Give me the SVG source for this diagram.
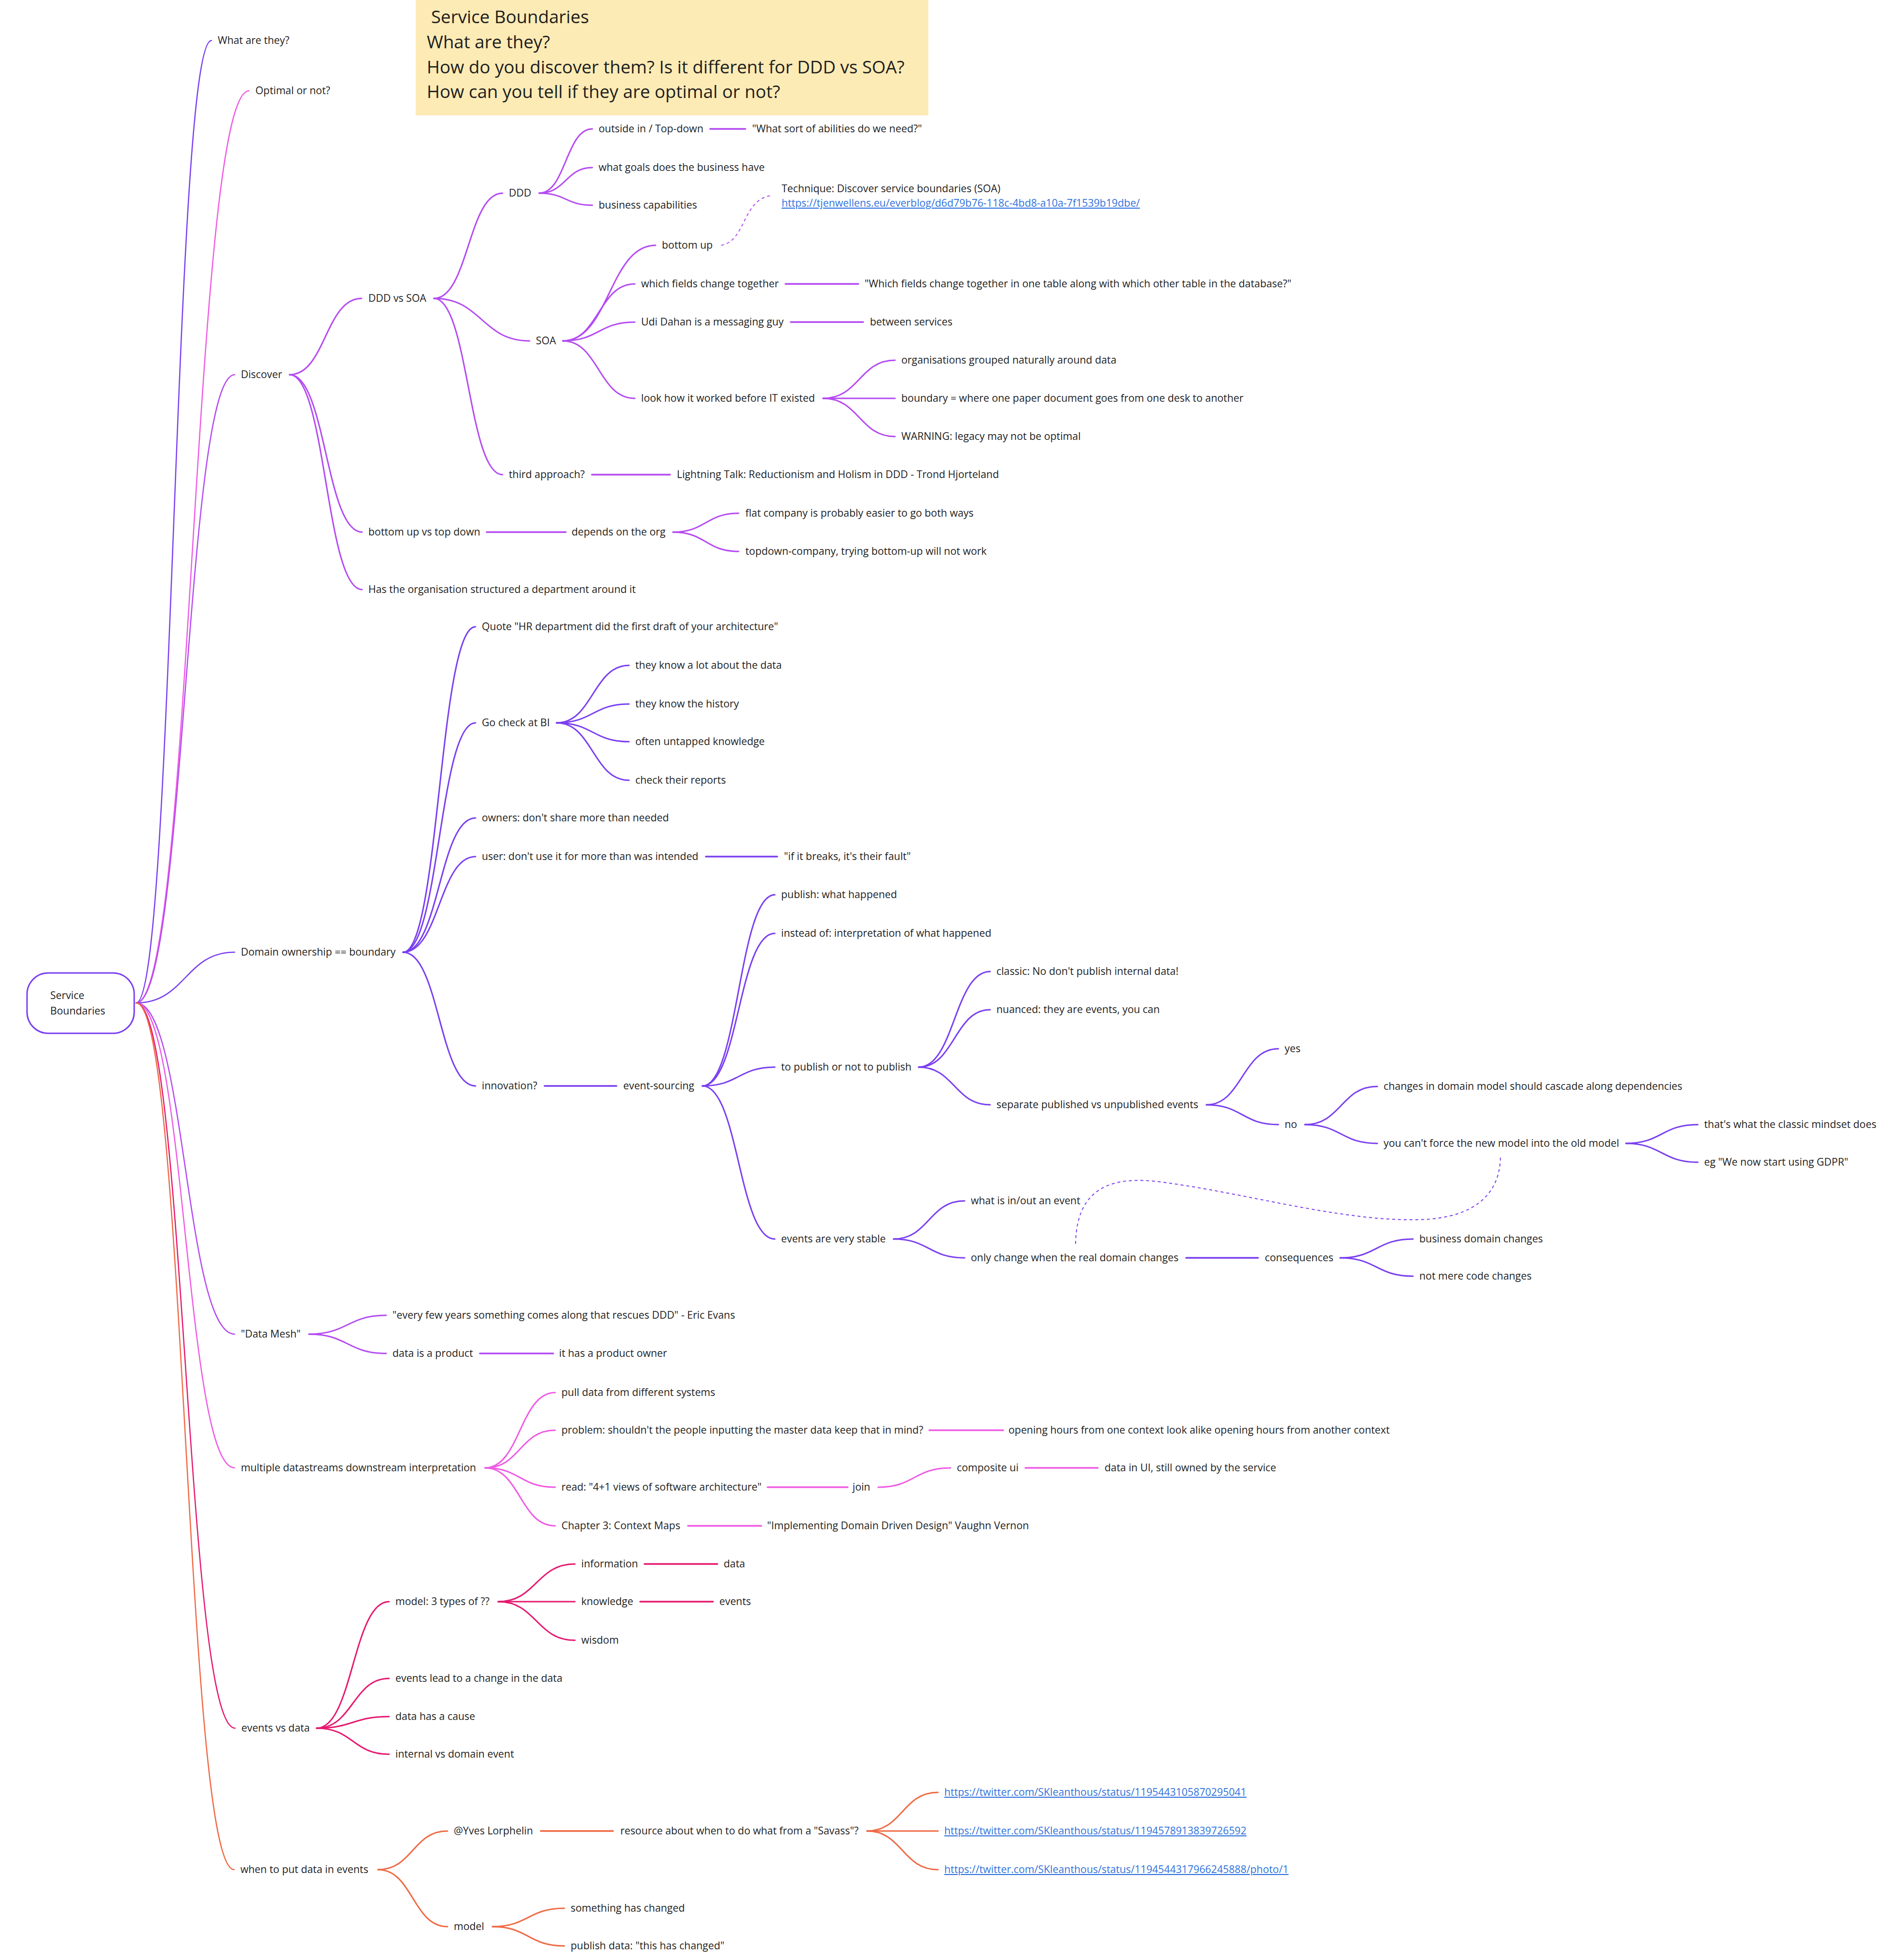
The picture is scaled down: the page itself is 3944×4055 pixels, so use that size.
<svg xmlns="http://www.w3.org/2000/svg" width="3944" height="4055" viewBox="0 0 3944 4055">
<style>
.t{font-family:"Open Sans","Noto Sans","Liberation Sans",sans-serif;font-size:21.33px;fill:#1e1e1e}
.tt{font-family:"Open Sans","Noto Sans","Liberation Sans",sans-serif;font-size:36.7px;fill:#1e1e1e}
.lk{fill:#2f72dc;text-decoration:underline}
.e{fill:none;stroke-linecap:round;stroke-width:3}
.e1{stroke-width:2.5}
.s{stroke-width:3.5}
.d{fill:none;stroke-width:2;stroke-dasharray:6 6}
.v{stroke:#7a3ff0}
.pu{stroke:#b44af2}
.pk{stroke:#ef5be4}
.rd{stroke:#e5196f}
.or{stroke:#ef6a45}
</style>
<rect width="3944" height="4055" fill="#ffffff"/>
<g id="title">
<rect x="861" y="0" width="1062" height="239" fill="#fdebb5"/>
<text class="tt" x="893" y="48">Service Boundaries</text>
<text class="tt" x="884" y="100">What are they?</text>
<text class="tt" x="884" y="152">How do you discover them? Is it different for DDD vs SOA?</text>
<text class="tt" x="884" y="203">How can you tell if they are optimal or not?</text>
</g>
<g id="connectors">
<path class="e e1 v" d="M282 2077 C360 2077 360 84 438 84"/>
<path class="e e1 pk" d="M282 2077 C399 2077 399 188 516 188"/>
<path class="e e1 pu" d="M282 2077 C384 2077 384 776 486 776"/>
<path class="e e1 v" d="M282 2077 C384 2077 384 1972 486 1972"/>
<path class="e e1 pu" d="M282 2077 C384 2077 384 2763 486 2763"/>
<path class="e e1 pk" d="M282 2077 C384 2077 384 3040 486 3040"/>
<path class="e e1 rd" d="M282 2077 C384 2077 384 3579 487 3579"/>
<path class="e e1 or" d="M282 2077 C384 2077 384 3872 485 3872"/>
<path class="e pu" d="M600 776 C674 776 674 618 749 618"/>
<path class="e pu" d="M600 776 C675 776 675 1102 750 1102"/>
<path class="e pu" d="M600 776 C675 776 675 1221 750 1221"/>
<path class="e pu" d="M899 618 C970 618 970 400 1041 400"/>
<path class="e pu" d="M899 618 C998 618 998 706 1097 706"/>
<path class="e pu" d="M899 618 C970 618 970 983 1041 983"/>
<path class="e pu" d="M1117 400 C1172 400 1172 267 1227 267"/>
<path class="e pu" d="M1117 400 C1172 400 1172 347 1227 347"/>
<path class="e pu" d="M1117 400 C1172 400 1172 425 1227 425"/>
<path class="e s pu" d="M1471 267 L1544 267"/>
<path class="e pu" d="M1166 706 C1262 706 1262 508 1358 508"/>
<path class="e pu" d="M1166 706 C1240 706 1240 588 1315 588"/>
<path class="e pu" d="M1166 706 C1240 706 1240 667 1315 667"/>
<path class="e pu" d="M1166 706 C1240 706 1240 825 1315 825"/>
<path class="d pu" d="M1494 508 C1545 500 1538 412 1598 405"/>
<path class="e s pu" d="M1627 588 L1778 588"/>
<path class="e s pu" d="M1638 667 L1788 667"/>
<path class="e pu" d="M1705 825 C1780 825 1780 746 1854 746"/>
<path class="e pu" d="M1705 825 L1854 825"/>
<path class="e pu" d="M1705 825 C1780 825 1780 904 1854 904"/>
<path class="e s pu" d="M1226 983 L1388 983"/>
<path class="e s pu" d="M1008 1102 L1172 1102"/>
<path class="e pu" d="M1394 1102 C1462 1102 1462 1063 1530 1063"/>
<path class="e pu" d="M1394 1102 C1462 1102 1462 1142 1530 1142"/>
<path class="e v" d="M835 1972 C910 1972 910 1298 985 1298"/>
<path class="e v" d="M835 1972 C910 1972 910 1497 985 1497"/>
<path class="e v" d="M835 1972 C910 1972 910 1694 985 1694"/>
<path class="e v" d="M835 1972 C910 1972 910 1774 985 1774"/>
<path class="e v" d="M835 1972 C910 1972 910 2249 985 2249"/>
<path class="e v" d="M1153 1497 C1228 1497 1228 1378 1303 1378"/>
<path class="e v" d="M1153 1497 C1228 1497 1228 1458 1303 1458"/>
<path class="e v" d="M1153 1497 C1228 1497 1228 1536 1303 1536"/>
<path class="e v" d="M1153 1497 C1228 1497 1228 1616 1303 1616"/>
<path class="e s v" d="M1462 1774 L1610 1774"/>
<path class="e s v" d="M1128 2249 L1277 2249"/>
<path class="e v" d="M1455 2249 C1530 2249 1530 1853 1605 1853"/>
<path class="e v" d="M1455 2249 C1530 2249 1530 1933 1605 1933"/>
<path class="e v" d="M1455 2249 C1530 2249 1530 2210 1605 2210"/>
<path class="e v" d="M1455 2249 C1530 2249 1530 2566 1605 2566"/>
<path class="e v" d="M1903 2210 C1977 2210 1977 2012 2051 2012"/>
<path class="e v" d="M1903 2210 C1977 2210 1977 2091 2051 2091"/>
<path class="e v" d="M1903 2210 C1977 2210 1977 2288 2051 2288"/>
<path class="e v" d="M2499 2288 C2573 2288 2573 2172 2648 2172"/>
<path class="e v" d="M2499 2288 C2573 2288 2573 2329 2648 2329"/>
<path class="e v" d="M2703 2329 C2778 2329 2778 2250 2853 2250"/>
<path class="e v" d="M2703 2329 C2778 2329 2778 2368 2853 2368"/>
<path class="e v" d="M3368 2368 C3442 2368 3442 2329 3517 2329"/>
<path class="e v" d="M3368 2368 C3442 2368 3442 2407 3517 2407"/>
<path class="e v" d="M1851 2566 C1924 2566 1924 2487 1998 2487"/>
<path class="e v" d="M1851 2566 C1924 2566 1924 2605 1998 2605"/>
<path class="e s v" d="M2457 2605 L2606 2605"/>
<path class="e v" d="M2776 2605 C2851 2605 2851 2566 2927 2566"/>
<path class="e v" d="M2776 2605 C2851 2605 2851 2643 2927 2643"/>
<path class="d v" d="M2228 2576 C2230 2440 2330 2436 2420 2450 C2600 2475 2800 2535 2960 2525 C3080 2515 3108 2450 3108 2395"/>
<path class="e pu" d="M640 2763 C720 2763 720 2724 800 2724"/>
<path class="e pu" d="M640 2763 C720 2763 720 2803 800 2803"/>
<path class="e s pu" d="M994 2803 L1146 2803"/>
<path class="e pk" d="M1005 3040 C1077 3040 1077 2884 1150 2884"/>
<path class="e pk" d="M1005 3040 C1077 3040 1077 2962 1150 2962"/>
<path class="e pk" d="M1005 3040 C1077 3040 1077 3080 1150 3080"/>
<path class="e pk" d="M1005 3040 C1077 3040 1077 3160 1150 3160"/>
<path class="e s pk" d="M1925 2962 L2078 2962"/>
<path class="e s pk" d="M1590 3080 L1756 3080"/>
<path class="e pk" d="M1819 3080 C1894 3080 1894 3040 1969 3040"/>
<path class="e s pk" d="M2124 3040 L2274 3040"/>
<path class="e s pk" d="M1425 3160 L1577 3160"/>
<path class="e rd" d="M656 3579 C731 3579 731 3317 806 3317"/>
<path class="e rd" d="M656 3579 C731 3579 731 3476 806 3476"/>
<path class="e rd" d="M656 3579 C731 3579 731 3555 806 3555"/>
<path class="e rd" d="M656 3579 C731 3579 731 3633 806 3633"/>
<path class="e rd" d="M1032 3317 C1111 3317 1111 3239 1191 3239"/>
<path class="e rd" d="M1032 3317 L1191 3317"/>
<path class="e rd" d="M1032 3317 C1111 3317 1111 3397 1191 3397"/>
<path class="e s rd" d="M1335 3239 L1486 3239"/>
<path class="e s rd" d="M1326 3317 L1477 3317"/>
<path class="e or" d="M783 3872 C855 3872 855 3792 927 3792"/>
<path class="e or" d="M783 3872 C855 3872 855 3990 927 3990"/>
<path class="e s or" d="M1120 3792 L1270 3792"/>
<path class="e or" d="M1796 3792 C1869 3792 1869 3712 1943 3712"/>
<path class="e or" d="M1796 3792 L1943 3792"/>
<path class="e or" d="M1796 3792 C1869 3792 1869 3872 1943 3872"/>
<path class="e or" d="M1020 3990 C1094 3990 1094 3952 1169 3952"/>
<path class="e or" d="M1020 3990 C1094 3990 1094 4030 1169 4030"/>
</g>
<g id="root">
<rect x="56" y="2015" width="222" height="125" rx="44" fill="#ffffff" stroke="#7a3ff0" stroke-width="3"/>
<text class="t" x="104" y="2069">Service</text>
<text class="t" x="104" y="2101">Boundaries</text>
</g>
<g id="n-what"><text class="t" x="451" y="91">What are they?</text></g>
<g id="n-optimal"><text class="t" x="529" y="195">Optimal or not?</text></g>
<g id="n-discover"><text class="t" x="499" y="783">Discover</text></g>
<g id="n-dddvssoa"><text class="t" x="763" y="625">DDD vs SOA</text></g>
<g id="n-ddd"><text class="t" x="1054" y="407">DDD</text></g>
<g id="n-outside"><text class="t" x="1240" y="274">outside in / Top-down</text></g>
<g id="n-whatsort"><text class="t" x="1558" y="274">"What sort of abilities do we need?"</text></g>
<g id="n-goals"><text class="t" x="1240" y="354">what goals does the business have</text></g>
<g id="n-capabilities"><text class="t" x="1240" y="432">business capabilities</text></g>
<g id="n-soa"><text class="t" x="1110" y="713">SOA</text></g>
<g id="n-bottomup"><text class="t" x="1371" y="515">bottom up</text></g>
<g id="n-technique"><text class="t" x="1619" y="398">Technique: Discover service boundaries (SOA)</text><text class="t lk" x="1619" y="428">https://tjenwellens.eu/everblog/d6d79b76-118c-4bd8-a10a-7f1539b19dbe/</text></g>
<g id="n-fields"><text class="t" x="1328" y="595">which fields change together</text></g>
<g id="n-fieldsq"><text class="t" x="1791" y="595">"Which fields change together in one table along with which other table in the database?"</text></g>
<g id="n-udi"><text class="t" x="1328" y="674">Udi Dahan is a messaging guy</text></g>
<g id="n-between"><text class="t" x="1802" y="674">between services</text></g>
<g id="n-lookhow"><text class="t" x="1328" y="832">look how it worked before IT existed</text></g>
<g id="n-orgs"><text class="t" x="1867" y="753">organisations grouped naturally around data</text></g>
<g id="n-boundary"><text class="t" x="1867" y="832">boundary = where one paper document goes from one desk to another</text></g>
<g id="n-warning"><text class="t" x="1867" y="911">WARNING: legacy may not be optimal</text></g>
<g id="n-third"><text class="t" x="1054" y="990">third approach?</text></g>
<g id="n-lightning"><text class="t" x="1402" y="990">Lightning Talk: Reductionism and Holism in DDD - Trond Hjorteland</text></g>
<g id="n-buvstd"><text class="t" x="763" y="1109">bottom up vs top down</text></g>
<g id="n-depends"><text class="t" x="1184" y="1109">depends on the org</text></g>
<g id="n-flat"><text class="t" x="1544" y="1070">flat company is probably easier to go both ways</text></g>
<g id="n-topdown"><text class="t" x="1544" y="1149">topdown-company, trying bottom-up will not work</text></g>
<g id="n-hasorg"><text class="t" x="763" y="1228">Has the organisation structured a department around it</text></g>
<g id="n-domain"><text class="t" x="499" y="1979">Domain ownership == boundary</text></g>
<g id="n-quote"><text class="t" x="998" y="1305">Quote "HR department did the first draft of your architecture"</text></g>
<g id="n-gocheck"><text class="t" x="998" y="1504">Go check at BI</text></g>
<g id="n-knowdata"><text class="t" x="1316" y="1385">they know a lot about the data</text></g>
<g id="n-history"><text class="t" x="1316" y="1465">they know the history</text></g>
<g id="n-untapped"><text class="t" x="1316" y="1543">often untapped knowledge</text></g>
<g id="n-reports"><text class="t" x="1316" y="1623">check their reports</text></g>
<g id="n-owners"><text class="t" x="998" y="1701">owners: don't share more than needed</text></g>
<g id="n-user"><text class="t" x="998" y="1781">user: don't use it for more than was intended</text></g>
<g id="n-breaks"><text class="t" x="1624" y="1781">"if it breaks, it's their fault"</text></g>
<g id="n-innovation"><text class="t" x="998" y="2256">innovation?</text></g>
<g id="n-es"><text class="t" x="1291" y="2256">event-sourcing</text></g>
<g id="n-publish"><text class="t" x="1618" y="1860">publish: what happened</text></g>
<g id="n-instead"><text class="t" x="1618" y="1940">instead of: interpretation of what happened</text></g>
<g id="n-topublish"><text class="t" x="1618" y="2217">to publish or not to publish</text></g>
<g id="n-classic"><text class="t" x="2064" y="2019">classic: No don't publish internal data!</text></g>
<g id="n-nuanced"><text class="t" x="2064" y="2098">nuanced: they are events, you can</text></g>
<g id="n-separate"><text class="t" x="2064" y="2295">separate published vs unpublished events</text></g>
<g id="n-yes"><text class="t" x="2661" y="2179">yes</text></g>
<g id="n-no"><text class="t" x="2661" y="2336">no</text></g>
<g id="n-cascade"><text class="t" x="2866" y="2257">changes in domain model should cascade along dependencies</text></g>
<g id="n-force"><text class="t" x="2866" y="2375">you can't force the new model into the old model</text></g>
<g id="n-mindset"><text class="t" x="3530" y="2336">that's what the classic mindset does</text></g>
<g id="n-gdpr"><text class="t" x="3530" y="2414">eg "We now start using GDPR"</text></g>
<g id="n-stable"><text class="t" x="1618" y="2573">events are very stable</text></g>
<g id="n-inout"><text class="t" x="2011" y="2494">what is in/out an event</text></g>
<g id="n-onlychange"><text class="t" x="2011" y="2612">only change when the real domain changes</text></g>
<g id="n-consequences"><text class="t" x="2620" y="2612">consequences</text></g>
<g id="n-bizchanges"><text class="t" x="2940" y="2573">business domain changes</text></g>
<g id="n-codechanges"><text class="t" x="2940" y="2650">not mere code changes</text></g>
<g id="n-datamesh"><text class="t" x="499" y="2770">"Data Mesh"</text></g>
<g id="n-everyfew"><text class="t" x="813" y="2731">"every few years something comes along that rescues DDD" - Eric Evans</text></g>
<g id="n-product"><text class="t" x="813" y="2810">data is a product</text></g>
<g id="n-owner"><text class="t" x="1158" y="2810">it has a product owner</text></g>
<g id="n-multiple"><text class="t" x="499" y="3047">multiple datastreams downstream interpretation</text></g>
<g id="n-pull"><text class="t" x="1163" y="2891">pull data from different systems</text></g>
<g id="n-problem"><text class="t" x="1163" y="2969">problem: shouldn't the people inputting the master data keep that in mind?</text></g>
<g id="n-opening"><text class="t" x="2089" y="2969">opening hours from one context look alike opening hours from another context</text></g>
<g id="n-read"><text class="t" x="1163" y="3087">read: "4+1 views of software architecture"</text></g>
<g id="n-join"><text class="t" x="1766" y="3087">join</text></g>
<g id="n-composite"><text class="t" x="1982" y="3047">composite ui</text></g>
<g id="n-dataui"><text class="t" x="2288" y="3047">data in UI, still owned by the service</text></g>
<g id="n-chapter"><text class="t" x="1163" y="3167">Chapter 3: Context Maps</text></g>
<g id="n-iddd"><text class="t" x="1589" y="3167">"Implementing Domain Driven Design" Vaughn Vernon</text></g>
<g id="n-evd"><text class="t" x="500" y="3586">events vs data</text></g>
<g id="n-model3"><text class="t" x="819" y="3324">model: 3 types of ??</text></g>
<g id="n-information"><text class="t" x="1204" y="3246">information</text></g>
<g id="n-data"><text class="t" x="1499" y="3246">data</text></g>
<g id="n-knowledge"><text class="t" x="1204" y="3324">knowledge</text></g>
<g id="n-events"><text class="t" x="1490" y="3324">events</text></g>
<g id="n-wisdom"><text class="t" x="1204" y="3404">wisdom</text></g>
<g id="n-eventslead"><text class="t" x="819" y="3483">events lead to a change in the data</text></g>
<g id="n-cause"><text class="t" x="819" y="3562">data has a cause</text></g>
<g id="n-internal"><text class="t" x="819" y="3640">internal vs domain event</text></g>
<g id="n-whenput"><text class="t" x="498" y="3879">when to put data in events</text></g>
<g id="n-yves"><text class="t" x="940" y="3799">@Yves Lorphelin</text></g>
<g id="n-resource"><text class="t" x="1285" y="3799">resource about when to do what from a "Savass"?</text></g>
<g id="n-link1"><text class="t lk" x="1956" y="3719">https://twitter.com/SKleanthous/status/1195443105870295041</text></g>
<g id="n-link2"><text class="t lk" x="1956" y="3799">https://twitter.com/SKleanthous/status/1194578913839726592</text></g>
<g id="n-link3"><text class="t lk" x="1956" y="3879">https://twitter.com/SKleanthous/status/1194544317966245888/photo/1</text></g>
<g id="n-model"><text class="t" x="940" y="3997">model</text></g>
<g id="n-something"><text class="t" x="1182" y="3959">something has changed</text></g>
<g id="n-publishdata"><text class="t" x="1182" y="4037">publish data: "this has changed"</text></g>
</svg>
